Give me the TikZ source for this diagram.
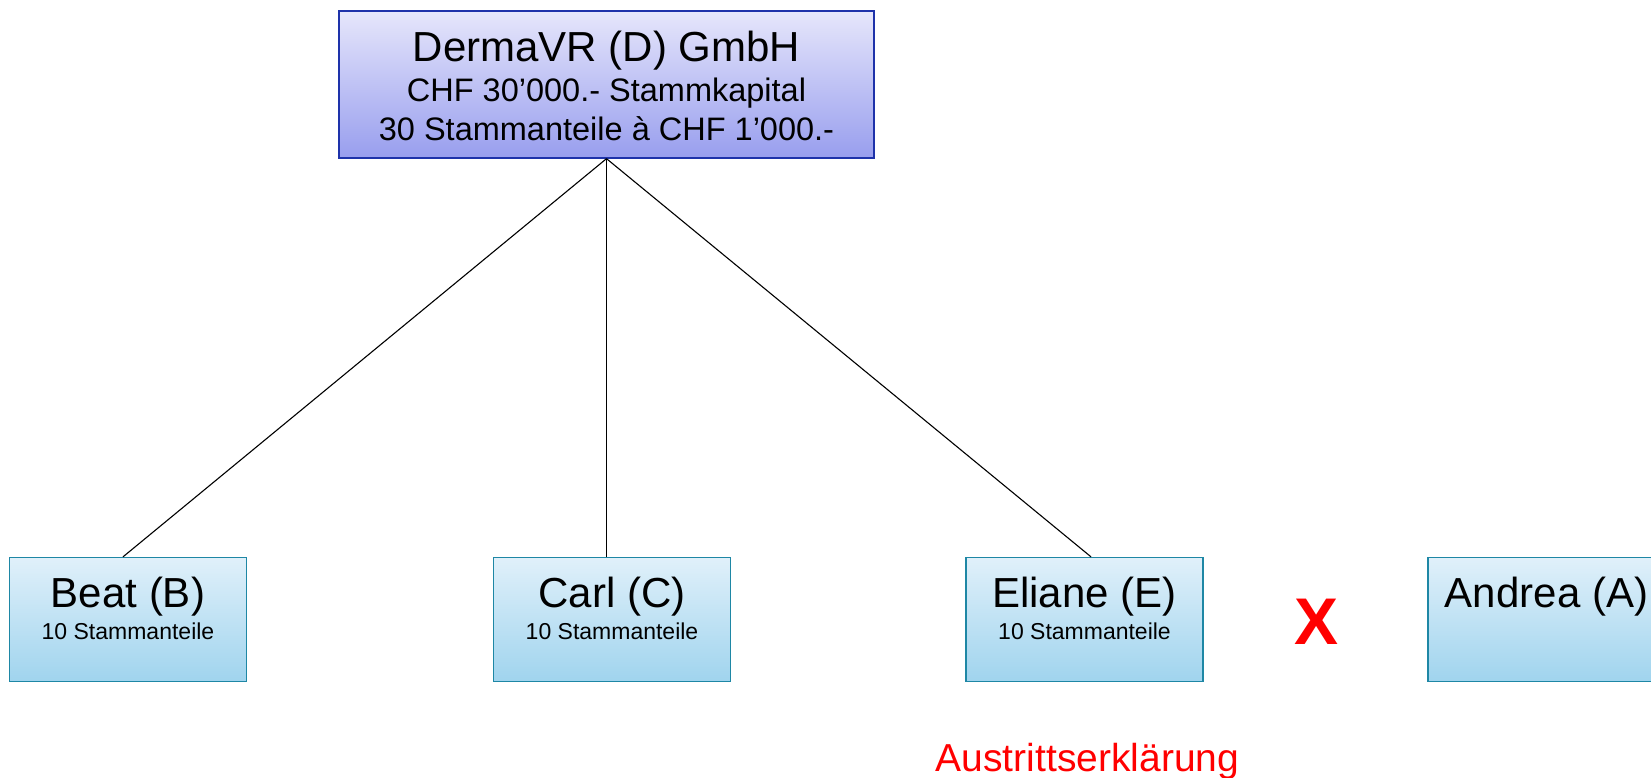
\documentclass[tikz,border=0pt]{standalone}
\usepackage{fontspec}
\setmainfont{Liberation Sans}
\definecolor{firmaoben}{RGB}{230,230,251}
\definecolor{firmaunten}{RGB}{152,158,238}
\definecolor{firmarand}{RGB}{30,50,170}
\definecolor{gesoben}{RGB}{224,240,250}
\definecolor{gesunten}{RGB}{160,212,238}
\definecolor{gesrand}{RGB}{30,135,165}
\begin{document}
\begin{tikzpicture}[x=1pt,y=-1pt,
		firma/.style={draw=firmarand,line width=1.3pt,top color=firmaoben,bottom color=firmaunten,minimum width=535pt,minimum height=147pt,inner sep=0pt},
		gesell/.style={draw=gesrand,line width=1.3pt,top color=gesoben,bottom color=gesunten,minimum width=237pt,minimum height=124pt,inner sep=0pt},
		gross/.style={font=\fontsize{42}{42}\selectfont,anchor=base},
		mittel/.style={font=\fontsize{32.5}{32.5}\selectfont,anchor=base},
		klein/.style={font=\fontsize{23}{23}\selectfont,anchor=base}]
	\useasboundingbox (0,0) rectangle (1651,778);
	% Gesellschaft
	\node[firma] (dvr) at (606.5,84.5) {};
	\path (606.5,62) node[gross] (dvrname) {DermaVR (D) GmbH};
	\path (606.5,102) node[mittel] (dvrkap) {CHF 30’000.- Stammkapital};
	\path (606.5,141) node[mittel] (dvrant) {30 Stammanteile à CHF 1’000.-};
	% Gesellschafter
	\node[gesell] (beat) at (128,619.5) {};
	\node[gesell] (carl) at (612,619.5) {};
	\node[gesell] (eliane) at (1084.5,619.5) {};
	\node[gesell] (andrea) at (1546.5,619.5) {};
	\path (128,607) node[gross] (beatname) {Beat (B)};
	\path (612,607) node[gross] (carlname) {Carl (C)};
	\path (1084.5,607) node[gross] (elianename) {Eliane (E)};
	\path (1546.5,607) node[gross] (andreaname) {Andrea (A)};
	\path (128,639) node[klein] (beatant) {10 Stammanteile};
	\path (612,639) node[klein] (carlant) {10 Stammanteile};
	\path (1084.5,639) node[klein] (elianeant) {10 Stammanteile};
	% Beteiligungen
	\draw[line width=1.1pt] (dvr.south) -- ([xshift=-5pt]beat.north);
	\draw[line width=1.1pt] (dvr.south) -- ([xshift=-5.5pt]carl.north);
	\draw[line width=1.1pt] (dvr.south) -- ([xshift=6.5pt]eliane.north);
	% Austritt
	\path (1316,644) node[anchor=base,red,font=\fontsize{66}{66}\selectfont\bfseries] (austritt) {X};
	\path (1087.5,771) node[anchor=base,red,font=\fontsize{39}{39}\selectfont] (erklaerung) {Austrittserklärung};
\end{tikzpicture}
\end{document}
